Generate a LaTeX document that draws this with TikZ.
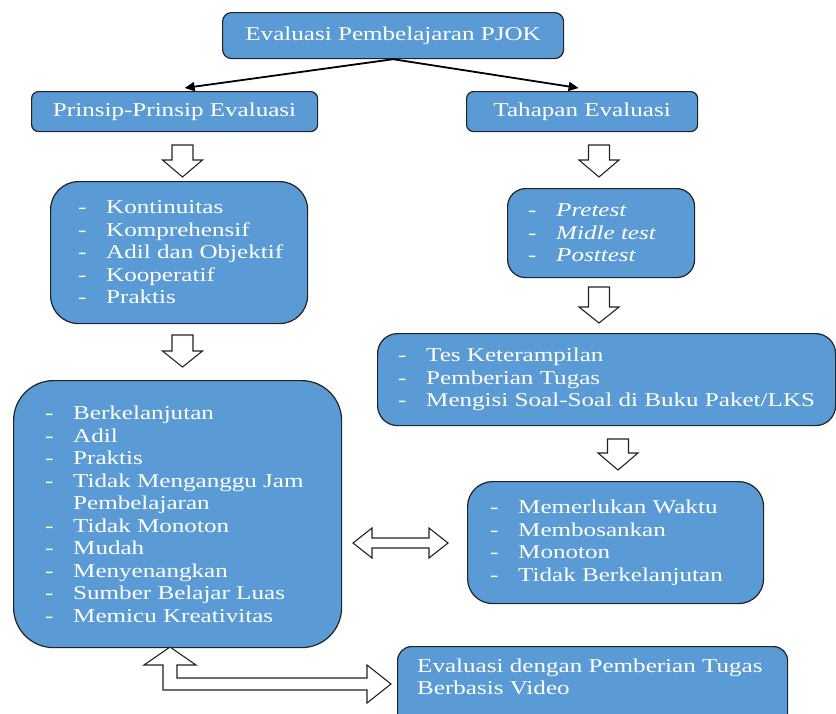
\documentclass[tikz,border=0pt]{standalone}
\usepackage{fontspec}
\setmainfont{Liberation Serif}[FakeStretch=1.28]
\usetikzlibrary{calc,arrows.meta}
\definecolor{boxblue}{RGB}{91,155,213}
\definecolor{edge}{RGB}{35,35,35}
\newcommand\dsh{\makebox[28pt][l]{-}}
\newcommand\hdown[4]{\draw[hollow] (#1-10.5,#2) -- (#1+10.5,#2) -- (#1+10.5,#3) -- (#1+20,#3) -- (#1,#4) -- (#1-20,#3) -- (#1-10.5,#3) -- cycle;}
\begin{document}
\begin{tikzpicture}[x=1pt,y=-1pt,
  box/.style={draw=edge, line width=1.2pt, fill=boxblue, inner sep=0pt, anchor=north west,
    text=white, font=\fontsize{19.6}{22.5}\selectfont},
  txt/.style={text=white, font=\fontsize{19.6}{22.5}\selectfont, align=left, inner sep=0pt, anchor=west},
  hollow/.style={draw=edge, line width=1.1pt, fill=white, line join=miter},
  link/.style={line width=1.8pt, -{Triangle[length=10pt,width=9pt]}}
]
\useasboundingbox (0,0) rectangle (836,713);
\clip (0,0) rectangle (836,713);

% boxes
\node[box, rounded corners=9pt, minimum width=341pt, minimum height=46pt] (top) at (222,12) {Evaluasi Pembelajaran PJOK};
\node[box, rounded corners=7pt, minimum width=286pt, minimum height=40pt] (prinsip) at (31,91) {Prinsip-Prinsip Evaluasi};
\node[box, rounded corners=7pt, minimum width=231pt, minimum height=40pt] (tahapan) at (466,91) {Tahapan Evaluasi};
\node[box, rounded corners=28pt, minimum width=257pt, minimum height=142pt] (kont) at (50,181) {};
\node[box, rounded corners=18pt, minimum width=187pt, minimum height=89pt] (pre) at (507,188) {};
\node[box, rounded corners=20pt, minimum width=458pt, minimum height=92pt] (tes) at (377,333) {};
\node[box, rounded corners=40pt, minimum width=328pt, minimum height=267pt] (berk) at (13,380) {};
\node[box, rounded corners=25pt, minimum width=296pt, minimum height=122pt] (mem) at (467,481) {};
\node[box, rounded corners=14pt, minimum width=390pt, minimum height=90pt] (bot) at (397,646) {};

% texts
\node[txt] (kontt) at ($(kont.west)+(28,0)$) {\dsh Kontinuitas\\ \dsh Komprehensif\\ \dsh Adil dan Objektif\\ \dsh Kooperatif\\ \dsh Praktis};
\node[txt] (pret) at ($(pre.west)+(21,0)$) {\dsh\textit{Pretest}\\ \dsh\textit{Midle test}\\ \dsh\textit{Posttest}};
\node[txt] (test) at ($(tes.west)+(21,0)$) {\dsh Tes Keterampilan\\ \dsh Pemberian Tugas\\ \dsh Mengisi Soal-Soal di Buku Paket/LKS};
\node[txt] (berkt) at ($(berk.west)+(32,0)$) {\dsh Berkelanjutan\\ \dsh Adil\\ \dsh Praktis\\ \dsh Tidak Menganggu Jam\\ \hspace*{28pt}Pembelajaran\\ \dsh Tidak Monoton\\ \dsh Mudah\\ \dsh Menyenangkan\\ \dsh Sumber Belajar Luas\\ \dsh Memicu Kreativitas};
\node[txt] (memt) at ($(mem.west)+(23,0)$) {\dsh Memerlukan Waktu\\ \dsh Membosankan\\ \dsh Monoton\\ \dsh Tidak Berkelanjutan};
\node[txt] (bott) at ($(bot.north west)+(20,31)$) {Evaluasi dengan Pemberian Tugas\\ Berbasis Video};

% connectors from the title
\draw[link] (top.south) -- ($(prinsip.north)+(10,-3)$);
\draw[link] (top.south) -- ($(tahapan.north)+(-3.5,-3)$);

% hollow block arrows
\hdown{182.5}{145}{160}{177}
\hdown{599}{145}{160}{177}
\hdown{182.5}{335}{351}{367}
\hdown{599}{287}{307}{323}
\hdown{618}{439}{453}{470}

\draw[hollow] (353,543) -- (372,528) -- (372,538) -- (429,538) -- (429,528) -- (448,543)
  -- (429,558) -- (429,548) -- (372,548) -- (372,558) -- cycle;

\draw[hollow] (170,647) -- (196,665) -- (177,665) -- (177,678) -- (367,678) -- (367,665)
  -- (391,684) -- (367,703) -- (367,690) -- (163,690) -- (163,665) -- (144,665) -- cycle;
\end{tikzpicture}
\end{document}
